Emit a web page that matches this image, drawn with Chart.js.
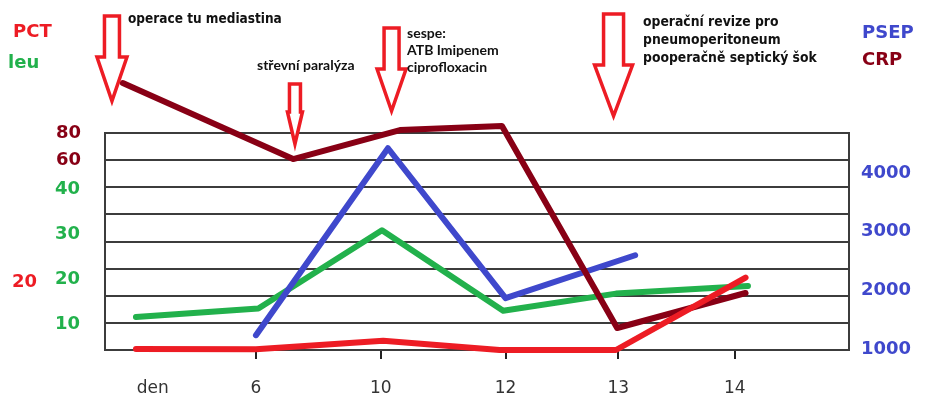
<!DOCTYPE html>
<html>
<head>
<meta charset="utf-8">
<script src="https://cdn.jsdelivr.net/npm/chart.js@4.4.1/dist/chart.umd.min.js"></script>
<style>
  html, body { margin: 0; padding: 0; background: #fff; }
  #wrap { width: 942px; height: 420px; position: relative; }
</style>
</head>
<body>
<div id="wrap"><canvas id="chart"></canvas></div>
<script>
// day labels and where they sit on the (hand drawn) day axis
const days = ['den', '6', '10', '12', '13', '14'];
const dayTicks = [0.14, 1, 2.04, 3.08, 4.02, 4.99];

// values, each against its own axis
const crpDays = [-0.11, 1.31, 2.2, 3.05, 4.01, 5.08];
const crpValues = [117, 60.7, 82.2, 85.2, -64.4, -38.5];
const leuDays = [0, 1.02, 2.05, 3.06, 4, 5.1];
const leuValues = [11.7, 13.6, 31, 13.1, 16.9, 18.6];
const psepDays = [1, 2.1, 3.08, 4.16];
const psepValues = [1240, 4420, 1870, 2600];
const pctDays = [0, 1, 2.06, 3.03, 4, 5.08];
const pctValues = [0.3, 0.2, 2.7, 0, 0, 21.4];

const crpTicks = [60, 80];
const leuTicks = [10, 20, 30, 40];
const psepTicks = [1000, 2000, 3000, 4000];
const pctTicks = [20];

const RED = '#ed1c24';
const GREEN = '#22b14c';
const BLUE = '#3f48cc';
const MAROON = '#880015';
const GRID = '#3c3c3c';

// arrows and notes above the plot
const arrows = [
  { day: -0.2, top: 16, neck: 57, tip: 101, shaft: 15, head: 30 },
  { day: 1.325, top: 84, neck: 112, tip: 144, shaft: 11, head: 15 },
  { day: 2.13, top: 28, neck: 69, tip: 111, shaft: 15, head: 29 },
  { day: 3.98, top: 14, neck: 65, tip: 116, shaft: 20, head: 38 }
];
const notes = [
  { lines: ['operace tu mediastina'], x: 128, y: 19, step: 0, font: 'bold 13.5px "DejaVu Sans Condensed", "DejaVu Sans"' },
  { lines: ['střevní paralýza'], x: 257, y: 65, step: 0, font: 'bold 14px Lato' },
  { lines: ['sespe:', 'ATB Imipenem', 'ciprofloxacin'], x: 407, y: 33, step: 17, font: 'bold 14px Lato' },
  { lines: ['operační revize pro', 'pneumoperitoneum', 'pooperačně septický šok'], x: 643, y: 22, step: 18, font: 'bold 13.8px "DejaVu Sans Condensed", "DejaVu Sans"' }
];
const names = [
  { text: 'PCT', x: 13, y: 32, color: RED },
  { text: 'leu', x: 8, y: 63, color: GREEN },
  { text: 'PSEP', x: 862, y: 33, color: BLUE },
  { text: 'CRP', x: 862, y: 60, color: MAROON }
];

const pts = (xs, ys) => xs.map((x, i) => ({ x, y: ys[i] }));
const setTicks = list => axis => { axis.ticks = list.map(v => ({ value: v })); };
const numFont = { family: 'DejaVu Sans', size: 18, weight: 'bold' };
const plain = v => String(v);

const line = {
  borderWidth: 6,
  pointRadius: 0,
  tension: 0,
  fill: false,
  clip: false,
  borderCapStyle: 'round',
  borderJoinStyle: 'round'
};

const annotations = {
  id: 'annotations',
  afterDraw(chart) {
    const { ctx, scales } = chart;
    ctx.save();
    arrows.forEach(a => {
      const cx = scales.x.getPixelForValue(a.day);
      ctx.beginPath();
      ctx.moveTo(cx - a.shaft / 2, a.top);
      ctx.lineTo(cx + a.shaft / 2, a.top);
      ctx.lineTo(cx + a.shaft / 2, a.neck);
      ctx.lineTo(cx + a.head / 2, a.neck);
      ctx.lineTo(cx, a.tip);
      ctx.lineTo(cx - a.head / 2, a.neck);
      ctx.lineTo(cx - a.shaft / 2, a.neck);
      ctx.closePath();
      ctx.fillStyle = '#fff';
      ctx.fill();
      ctx.lineWidth = 3.5;
      ctx.lineJoin = 'miter';
      ctx.strokeStyle = RED;
      ctx.stroke();
    });
    ctx.textBaseline = 'middle';
    ctx.textAlign = 'left';
    ctx.fillStyle = '#111';
    notes.forEach(n => {
      ctx.font = n.font;
      n.lines.forEach((t, i) => ctx.fillText(t, n.x, n.y + i * n.step));
    });
    ctx.font = 'bold 18px "DejaVu Sans"';
    names.forEach(n => {
      ctx.fillStyle = n.color;
      ctx.fillText(n.text, n.x, n.y);
    });
    ctx.restore();
  }
};

new Chart(document.getElementById('chart'), {
  type: 'line',
  data: {
    datasets: [
      { ...line, label: 'PCT', data: pts(pctDays, pctValues), yAxisID: 'pct', borderColor: RED },
      { ...line, label: 'CRP', data: pts(crpDays, crpValues), yAxisID: 'crp', borderColor: MAROON },
      { ...line, label: 'PSEP', data: pts(psepDays, psepValues), yAxisID: 'psep', borderColor: BLUE },
      { ...line, label: 'leu', data: pts(leuDays, leuValues), yAxisID: 'leu', borderColor: GREEN }
    ]
  },
  options: {
    responsive: true,
    maintainAspectRatio: false,
    animation: false,
    layout: { padding: { top: 133, left: 0, right: 0, bottom: 0 } },
    plugins: { legend: { display: false }, tooltip: { enabled: false } },
    scales: {
      x: {
        type: 'linear',
        position: 'bottom',
        min: -0.258,
        max: 5.942,
        afterBuildTicks: setTicks(dayTicks),
        afterFit(s) { s.height = 70; },
        ticks: {
          callback: (v, i) => days[i],
          color: '#333',
          font: { family: 'DejaVu Sans', size: 17 },
          padding: 19,
          autoSkip: false,
          maxRotation: 0
        },
        grid: {
          drawOnChartArea: false,
          tickLength: 9,
          lineWidth: 2,
          color: c => (c.index === 0 ? 'rgba(0,0,0,0)' : '#222')
        },
        border: { display: true, color: GRID, width: 2 }
      },
      grid: {
        type: 'linear',
        position: 'left',
        weight: 0,
        min: 0,
        max: 8,
        afterFit(s) { s.width = 0; },
        ticks: { display: false, stepSize: 1 },
        grid: { color: GRID, lineWidth: 2, drawTicks: false },
        border: { display: true, color: GRID, width: 2 }
      },
      crp: {
        type: 'linear',
        position: 'left',
        weight: 1,
        min: -80.7,
        max: 80,
        afterBuildTicks: setTicks(crpTicks),
        afterFit(s) { s.width = 0; },
        // mirrored so the labels are not clipped by the zero-width box
        ticks: { color: MAROON, font: numFont, mirror: true, padding: -49, callback: plain },
        grid: { display: false, drawTicks: false },
        border: { display: false }
      },
      leu: {
        type: 'linear',
        position: 'left',
        weight: 2,
        min: 4.35,
        max: 52.64,
        afterBuildTicks: setTicks(leuTicks),
        afterFit(s) { s.width = 50; },
        ticks: { color: GREEN, font: numFont, padding: 25, callback: plain },
        grid: { display: false, drawTicks: false },
        border: { display: false }
      },
      pct: {
        type: 'linear',
        position: 'left',
        weight: 3,
        min: 0,
        max: 64.1,
        afterBuildTicks: setTicks(pctTicks),
        afterFit(s) { s.width = 55; },
        ticks: { color: RED, font: numFont, padding: 18, callback: plain },
        grid: { display: false, drawTicks: false },
        border: { display: false }
      },
      psep: {
        type: 'linear',
        position: 'right',
        weight: 0,
        min: 988,
        max: 4679,
        afterBuildTicks: setTicks(psepTicks),
        afterFit(s) { s.width = 93; },
        ticks: { color: BLUE, font: numFont, padding: 12, callback: plain },
        grid: { display: false, drawTicks: false },
        border: { display: true, color: GRID, width: 2 }
      }
    }
  },
  plugins: [annotations]
});
</script>
</body>
</html>
